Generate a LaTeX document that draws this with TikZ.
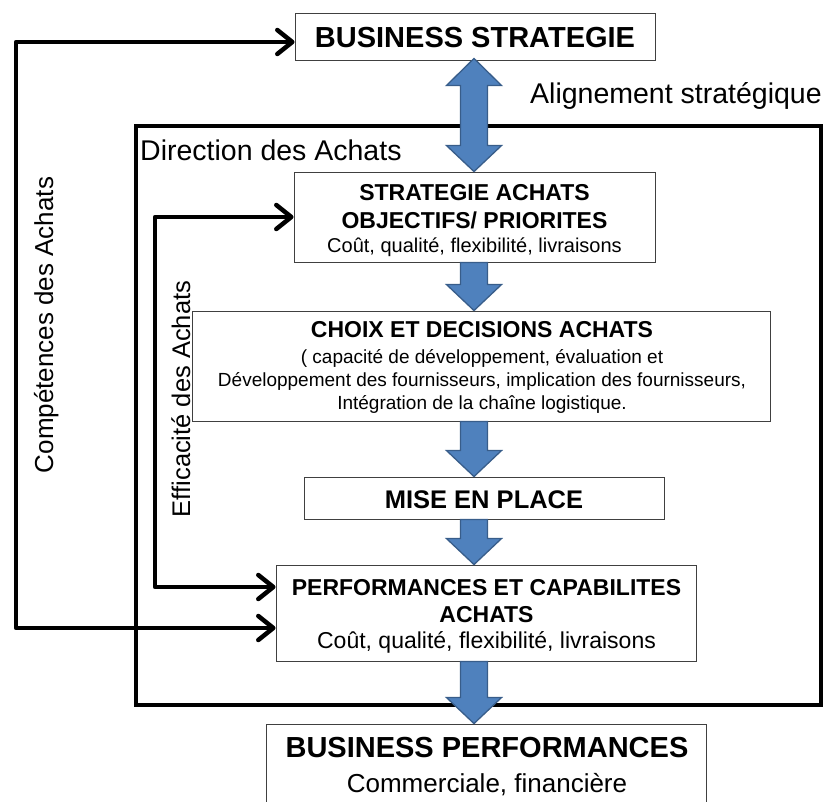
\documentclass[tikz,border=0pt]{standalone}
\usepackage{fontspec}
\setmainfont{Liberation Sans}
\usetikzlibrary{arrows.meta,calc}
\definecolor{arrowblue}{HTML}{4F81BD}
\definecolor{arrowedge}{HTML}{385D8A}
\newcommand{\fsz}[1]{\fontsize{#1}{#1}\selectfont}
\newcommand{\blkdown}[2]{%
  \filldraw[blk] let \p1=(ax |- #1), \p2=(ax |- #2) in
    (\x1-13.5pt,\y1) -- (\x1+13.5pt,\y1) -- (\x1+13.5pt,\y2+26pt) --
    (\x1+27.5pt,\y2+26pt) -- (\x1,\y2) -- (\x1-27.5pt,\y2+26pt) --
    (\x1-13.5pt,\y2+26pt) -- cycle;}
\begin{document}
\begin{tikzpicture}[x=1pt,y=-1pt,
  box/.style={draw=black!75, line width=0.9pt, fill=white, inner sep=0pt},
  txt/.style={anchor=base, inner sep=0pt},
  conn/.style={line width=4.5pt, line join=round, line cap=round,
    {Straight Barb[length=15pt,width=24pt,round]}-{Straight Barb[length=15pt,width=24pt,round]}},
  blk/.style={fill=arrowblue, draw=arrowedge, line width=1.3pt, line join=miter}]
\useasboundingbox (0,0) rectangle (827,801);
\coordinate (ax) at (474,0);
\coordinate (oc) at (16,300);
\coordinate (ic) at (155,400);
% outer frame
\node[draw, line width=3.5pt, minimum width=685pt, minimum height=579pt, inner sep=0pt] (dir) at (478.5,415.5) {};
% boxes
\node[box, minimum width=360pt, minimum height=47pt] (bs) at (475,36.5) {};
\node[box, minimum width=361pt, minimum height=90pt] (sa) at (474.5,217) {};
\node[box, minimum width=578pt, minimum height=110pt] (ch) at (481,366) {};
\node[box, minimum width=360pt, minimum height=42pt] (mi) at (484,498) {};
\node[box, minimum width=420pt, minimum height=96pt] (pf) at (486,613) {};
\node[box, minimum width=440pt, minimum height=110pt] (bp) at (486,779) {};
% texts
\node[txt] (bst) at (475,47) {\fsz{29}\bfseries BUSINESS STRATEGIE};
\node[txt, anchor=base west] (al) at (530,103) {\fsz{28.5}Alignement stratégique};
\node[txt, anchor=base west] (da) at (140,160) {\fsz{28.5}Direction des Achats};
\node[txt] (sa1) at (474.5,200) {\fsz{23}\bfseries STRATEGIE ACHATS};
\node[txt] (sa2) at (474.5,228) {\fsz{23}\bfseries OBJECTIFS/ PRIORITES};
\node[txt] (sa3) at (474.5,252) {\fsz{20}Coût, qualité, flexibilité, livraisons};
\node[txt] (ch1) at (482,337) {\fsz{23}\bfseries CHOIX ET DECISIONS ACHATS};
\node[txt] (ch2) at (482,363) {\fsz{19}( capacité de développement, évaluation et};
\node[txt] (ch3) at (482,386) {\fsz{19}Développement des fournisseurs, implication des fournisseurs,};
\node[txt] (ch4) at (482,409) {\fsz{19}Intégration de la chaîne logistique.};
\node[txt] (mit) at (484,508) {\fsz{25.5}\bfseries MISE EN PLACE};
\node[txt] (pf1) at (486.5,595) {\fsz{23}\bfseries PERFORMANCES ET CAPABILITES};
\node[txt] (pf2) at (486.5,622) {\fsz{23}\bfseries ACHATS};
\node[txt] (pf3) at (486.5,648) {\fsz{23}Coût, qualité, flexibilité, livraisons};
\node[txt] (bp1) at (487,757) {\fsz{29}\bfseries BUSINESS PERFORMANCES};
\node[txt] (bp2) at (487,792) {\fsz{26}Commerciale, financière};
\node[txt, rotate=90] (comp) at (53,325) {\fsz{26}Compétences des Achats};
\node[txt, rotate=90] (effi) at (190,399) {\fsz{25.5}Efficacité des Achats};
% block arrows
\filldraw[blk] let \p1=(ax |- bs.south), \p2=(ax |- sa.north) in
  (\x1,\y1+2pt) -- (\x1+27.5pt,\y1-25pt) -- (\x1+13.5pt,\y1-25pt) --
  (\x1+13.5pt,\y2+26pt) -- (\x1+27.5pt,\y2+26pt) -- (\x1,\y2) --
  (\x1-27.5pt,\y2+26pt) -- (\x1-13.5pt,\y2+26pt) -- (\x1-13.5pt,\y1-25pt) --
  (\x1-27.5pt,\y1-25pt) -- cycle;
\blkdown{sa.south}{ch.north}
\blkdown{ch.south}{mi.north}
\blkdown{mi.south}{pf.north}
\blkdown{pf.south}{bp.north}
% feedback connectors
\draw[conn] ([yshift=-5.5pt]bs.west) -| (oc) |- ([yshift=-15pt]pf.west);
\draw[conn] (sa.west) -| (ic) |- ([yshift=26pt]pf.west);
\end{tikzpicture}
\end{document}
